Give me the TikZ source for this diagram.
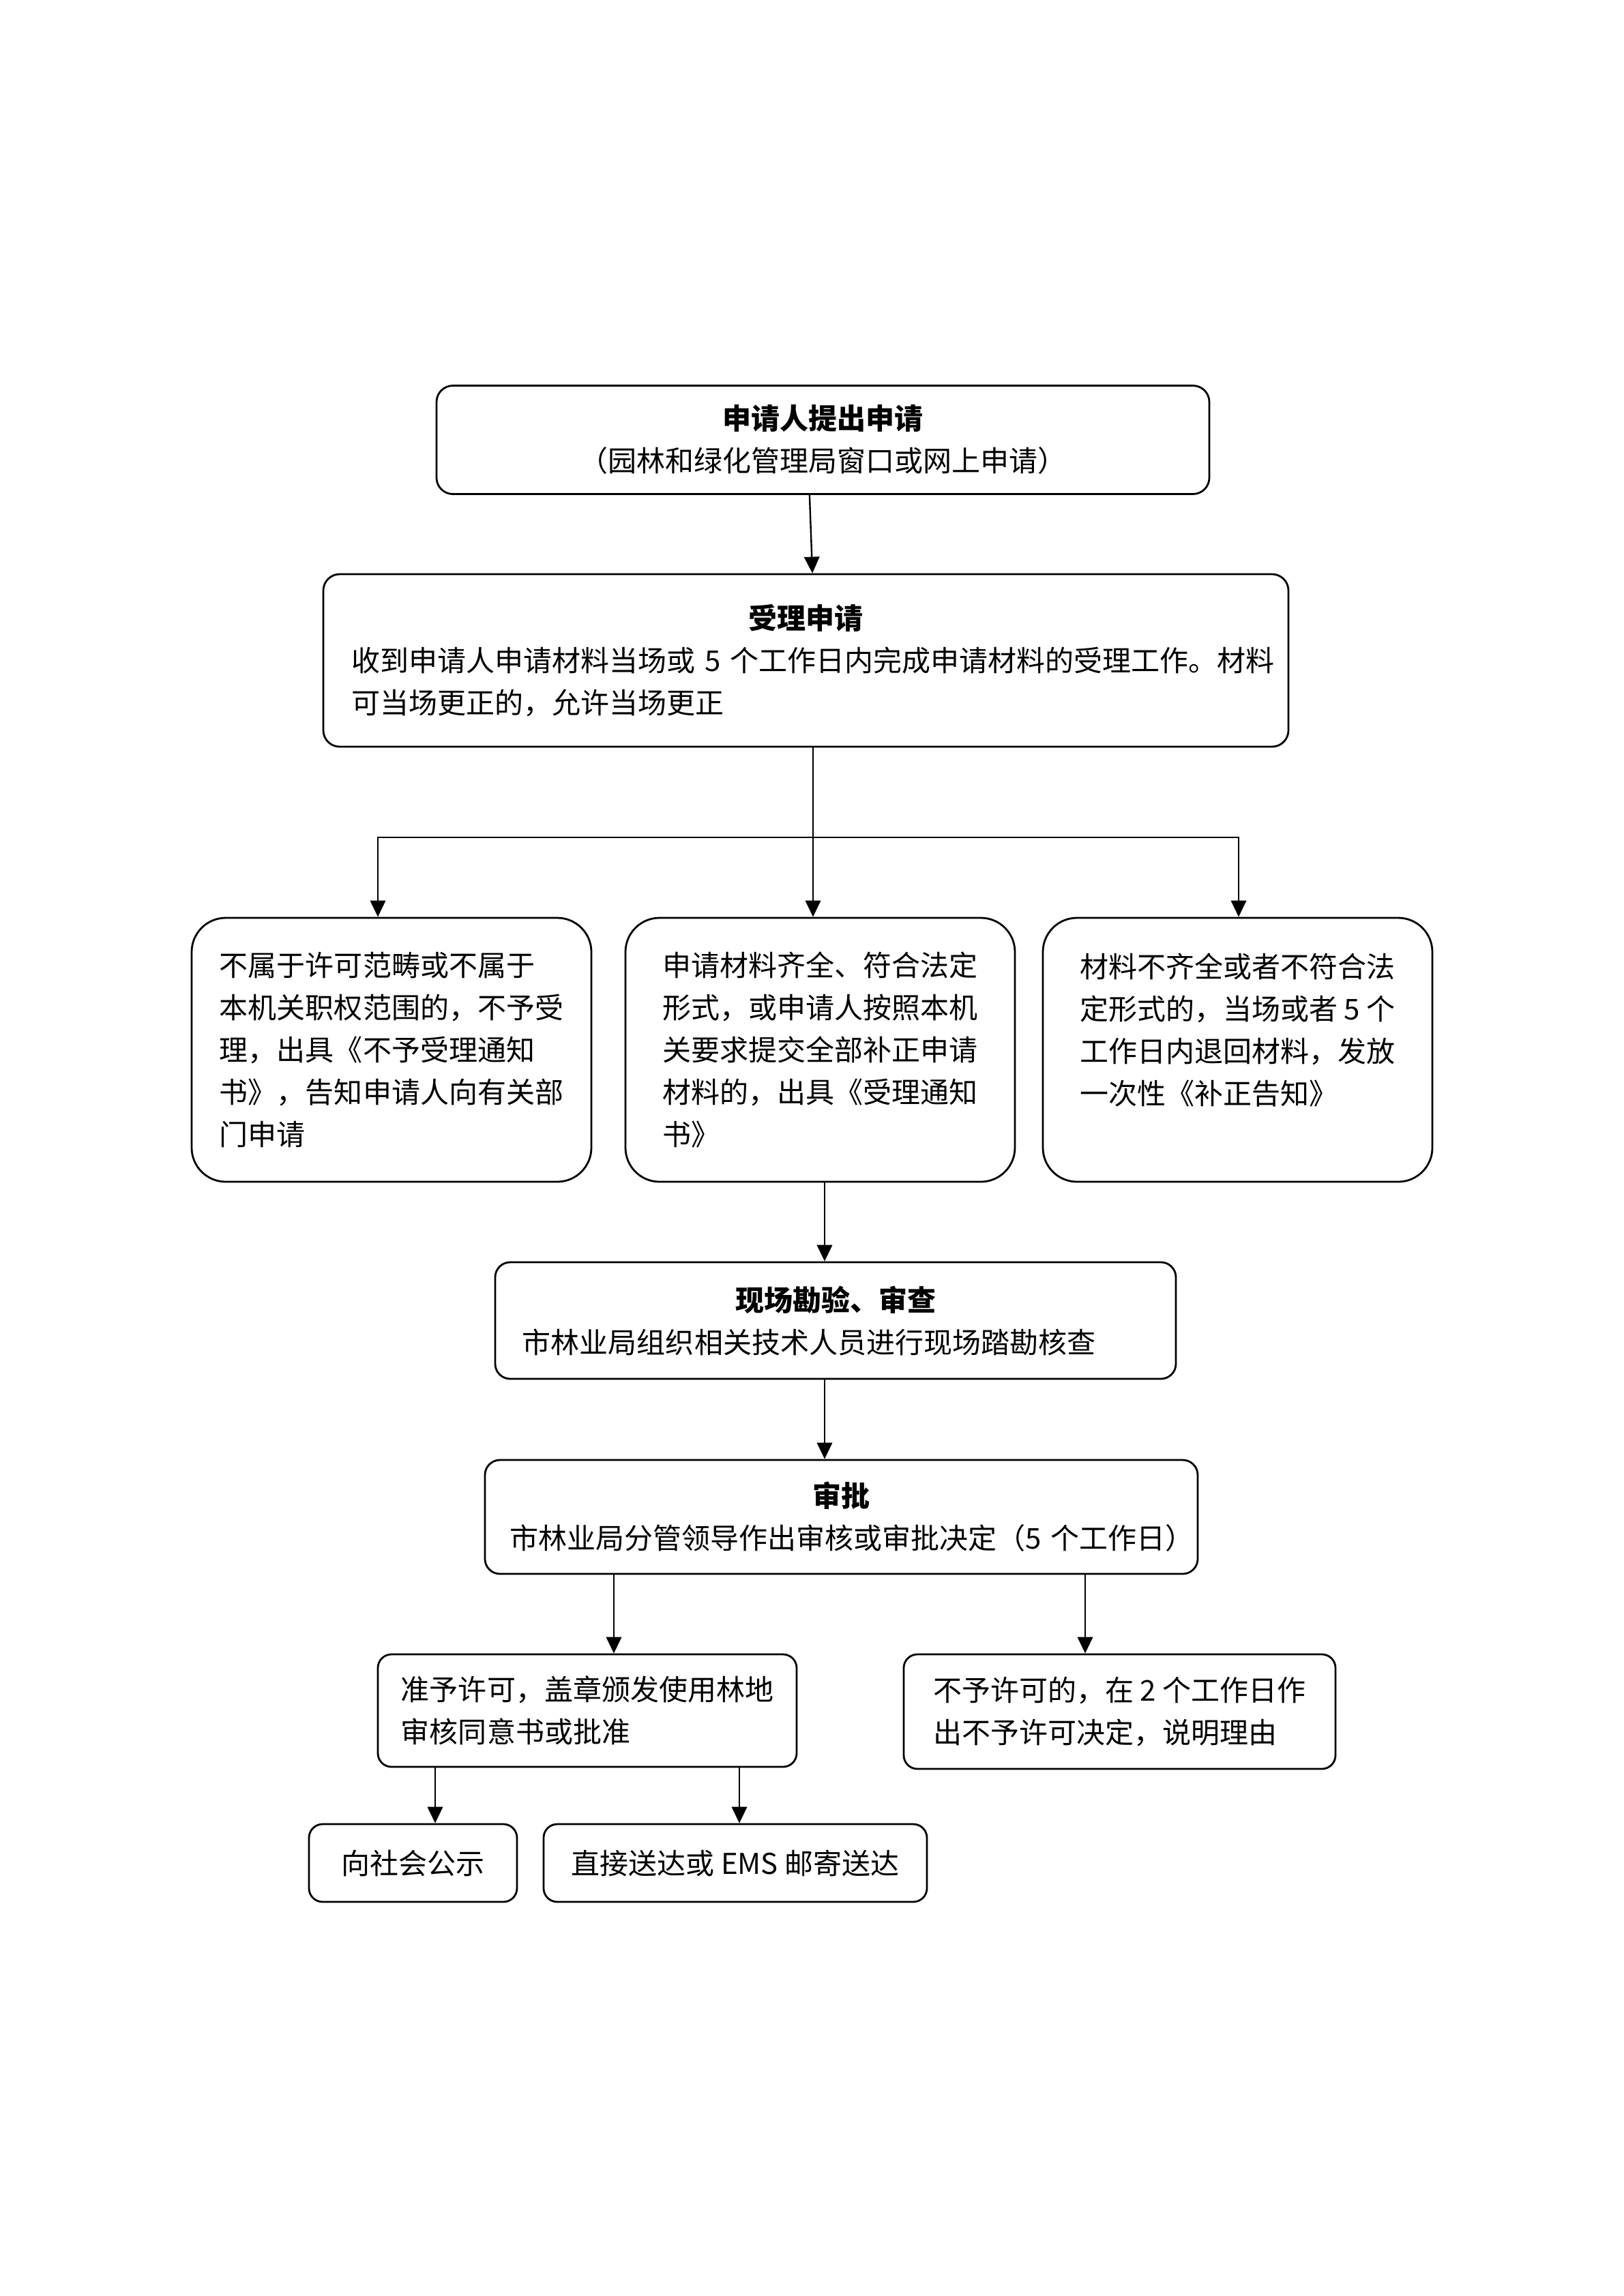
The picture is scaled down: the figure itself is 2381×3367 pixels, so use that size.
\documentclass[tikz,border=0pt]{standalone}
\usepackage{fontspec}
\setmainfont{Noto Sans CJK SC}
\usetikzlibrary{arrows.meta}

\begin{document}
\begin{tikzpicture}[x=0.25bp,y=-0.25bp,line cap=round,line join=round,
  box/.style={draw,line width=0.7bp,rounded corners=6bp,inner sep=0pt,font=\fontsize{10.5bp}{15.5bp}\selectfont},
  tallbox/.style={box,rounded corners=12.5bp,minimum width=142.75bp,minimum height=96.75bp,align=left},
  lowbox/.style={box,rounded corners=5bp,minimum height=28.5bp},
  arr/.style={-{Triangle[length=6bp,width=5.6bp]},line width=0.6bp}]
\useasboundingbox (0,0) rectangle (2381,3367);
% application and acceptance
\node[box,minimum width=283.25bp,minimum height=39.75bp,align=center] (req) at (1206.5,645) {{\bfseries 申请人提出申请}\\（园林和绿化管理局窗口或网上申请）};
\node[box,minimum width=353.75bp,minimum height=63.25bp,text width=333bp,align=left] (acc) at (1181.5,968.5) {{\centering\bfseries 受理申请\par}收到申请人申请材料当场或~5~个工作日内完成申请材料的受理工作。材料\\可当场更正的，允许当场更正};
% three outcomes
\node[tallbox,minimum width=146.5bp] (nor) at (574,1539.5) {不属于许可范畴或不属于\\本机关职权范围的，不予受\\理，出具《不予受理通知\\书》，告知申请人向有关部\\门申请};
\node[tallbox] (ful) at (1202.5,1539.5) {申请材料齐全、符合法定\\形式，或申请人按照本机\\关要求提交全部补正申请\\材料的，出具《受理通知\\书》};
\node[tallbox] (inc) at (1814.5,1539.5) {材料不齐全或者不符合法\\定形式的，当场或者~5~个\\工作日内退回材料，发放\\一次性《补正告知》\\\mbox{}};
% inspection and approval
\node[box,rounded corners=5.5bp,minimum width=249.5bp,minimum height=42.75bp,text width=229.5bp,align=left] (site) at (1225,1936.5) {{\centering\bfseries 现场勘验、审查\par}市林业局组织相关技术人员进行现场踏勘核查};
\node[box,rounded corners=5.5bp,minimum width=261.25bp,minimum height=41.75bp,text width=243bp,align=left] (appr) at (1233.5,2224.5) {{\centering\bfseries 审批\par}市林业局分管领导作出审核或审批决定（5~个工作日）};
\node[box,rounded corners=5bp,minimum width=153.5bp,minimum height=41.25bp,align=left] (ok) at (861,2508.5) {准予许可，盖章颁发使用林地\\审核同意书或批准};
\node[box,rounded corners=5bp,minimum width=158.25bp,minimum height=42bp,align=left] (no) at (1641.5,2510) {不予许可的，在~2~个工作日作\\出不予许可决定，说明理由};
\node[lowbox,minimum width=76.25bp] (pub) at (605.5,2732) {向社会公示};
\node[lowbox,minimum width=140.5bp] (send) at (1078,2732) {直接送达或~EMS~邮寄送达};
% connectors
\coordinate (split) at (1192,1228);
\coordinate (splitL) at (554,1228);
\coordinate (splitR) at (1816,1228);
\coordinate (axis) at (1209,0);
\coordinate (okx) at (900,0);
\coordinate (nox) at (1591,0);
\coordinate (pubx) at (638,0);
\coordinate (sendx) at (1084,0);
\draw[arr] ([xshift=-4.9bp]req.south) -- ([xshift=2.4bp]acc.north);
\draw[arr] (acc.south -| split) -- (split |- ful.north);
\draw[line width=0.6bp] (splitL) -- (splitR);
\draw[arr] (splitL) -- (splitL |- nor.north);
\draw[arr] (splitR) -- (splitR |- inc.north);
\draw[arr] (ful.south -| axis) -- (site.north -| axis);
\draw[arr] (site.south -| axis) -- (appr.north -| axis);
\draw[arr] (appr.south -| okx) -- (ok.north -| okx);
\draw[arr] (appr.south -| nox) -- (no.north -| nox);
\draw[arr] (ok.south -| pubx) -- (pub.north -| pubx);
\draw[arr] (ok.south -| sendx) -- (send.north -| sendx);
\end{tikzpicture}
\end{document}
